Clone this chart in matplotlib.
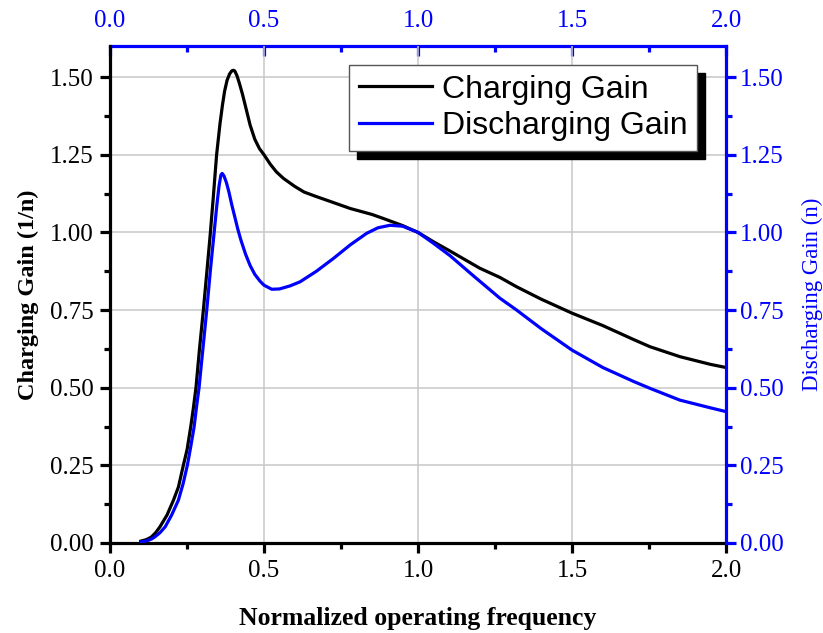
import matplotlib.pyplot as plt
from matplotlib.patches import Rectangle

plt.rcParams['font.family'] = 'Liberation Serif'

# Charging gain (1/n)
chgX = [0.10, 0.115, 0.125, 0.135, 0.148, 0.162, 0.185, 0.206, 0.222, 0.238, 0.25, 0.262,
        0.27, 0.279, 0.29, 0.303, 0.315, 0.325, 0.335, 0.346, 0.357, 0.365, 0.372, 0.38,
        0.388, 0.395, 0.40, 0.405, 0.412, 0.42, 0.43, 0.44, 0.455, 0.47, 0.485, 0.50,
        0.52, 0.54, 0.563, 0.60, 0.63, 0.671, 0.72, 0.78, 0.85, 0.887, 0.95, 1.0, 1.05,
        1.104, 1.20, 1.266, 1.32, 1.40, 1.50, 1.60, 1.70, 1.753, 1.85, 1.95, 2.0]
chgY = [0.006, 0.01, 0.014, 0.02, 0.033, 0.052, 0.09, 0.138, 0.18, 0.25, 0.30, 0.374,
        0.43, 0.50, 0.62, 0.75, 0.88, 0.99, 1.11, 1.25, 1.35, 1.41, 1.455, 1.49,
        1.51, 1.52, 1.522, 1.52, 1.505, 1.48, 1.445, 1.405, 1.345, 1.30, 1.27, 1.25,
        1.22, 1.195, 1.174, 1.148, 1.13, 1.115, 1.098, 1.077, 1.058, 1.045, 1.022, 1.0, 0.97,
        0.94, 0.885, 0.855, 0.825, 0.785, 0.74, 0.70, 0.655, 0.632, 0.60, 0.575, 0.565]

# Discharging gain (n)
disX = [0.10, 0.12, 0.135, 0.146, 0.162, 0.179, 0.20, 0.222, 0.237, 0.251, 0.262, 0.273,
        0.281, 0.289, 0.30, 0.314, 0.326, 0.338, 0.347, 0.354, 0.36, 0.364, 0.37, 0.378,
        0.386, 0.395, 0.405, 0.415, 0.425, 0.44, 0.455, 0.47, 0.487, 0.50, 0.525, 0.55,
        0.585, 0.617, 0.67, 0.725, 0.78, 0.833, 0.87, 0.909, 0.95, 1.0, 1.05, 1.104,
        1.18, 1.266, 1.32, 1.40, 1.50, 1.60, 1.70, 1.753, 1.85, 1.95, 2.0]
disY = [0.003, 0.007, 0.013, 0.02, 0.033, 0.052, 0.09, 0.138, 0.19, 0.25, 0.31, 0.374,
        0.44, 0.50, 0.61, 0.75, 0.88, 1.0, 1.09, 1.15, 1.185, 1.19, 1.182, 1.16,
        1.13, 1.09, 1.05, 1.01, 0.975, 0.93, 0.893, 0.865, 0.843, 0.83, 0.817, 0.818,
        0.828, 0.841, 0.875, 0.916, 0.96, 0.997, 1.015, 1.023, 1.02, 1.0, 0.965, 0.925,
        0.86, 0.788, 0.75, 0.69, 0.621, 0.565, 0.52, 0.498, 0.46, 0.435, 0.423]

xTicks = [0.0, 0.5, 1.0, 1.5, 2.0]
yTicks = [0.0, 0.25, 0.5, 0.75, 1.0, 1.25, 1.5]
blue = '#0000ff'

fig = plt.figure(figsize=(8.23, 6.33), dpi=100)
ax = fig.add_axes([0.1337, 0.1422, 0.7485, 0.785])
ax2 = ax.twinx()

ax.plot(chgX, chgY, color='black', lw=2.3, label='Charging Gain')
ax2.plot(disX, disY, color=blue, lw=2.3, label='Discharging Gain')

for a in (ax, ax2):
    a.set_xlim(0, 2.0)
    a.set_ylim(0, 1.6)
    a.set_yticks(yTicks)
    a.set_yticks([0.125, 0.375, 0.625, 0.875, 1.125, 1.375], minor=True)
    a.set_yticklabels(['%.2f' % t for t in yTicks])
ax.set_xticks(xTicks)
ax.set_xticks([0.25, 0.75, 1.25, 1.75], minor=True)
ax.set_xticklabels(['%.1f' % t for t in xTicks])
ax.grid(True, which='major', color='#c8c8c8', lw=1.1)
ax.set_axisbelow(True)

ax.spines['top'].set_visible(False)
ax.spines['right'].set_visible(False)
for s in ('left', 'bottom', 'top'):
    ax2.spines[s].set_visible(False)
ax.spines['left'].set_linewidth(2.3)
ax.spines['bottom'].set_linewidth(2.3)
ax2.spines['right'].set_linewidth(2.3)
ax2.spines['right'].set_color(blue)

ax.tick_params(which='major', direction='out', length=7, width=2.3, labelsize=18, pad=5)
ax.tick_params(which='minor', direction='out', length=4, width=2.3)
ax2.tick_params(which='major', direction='out', length=7, width=2.3, labelsize=18,
                colors=blue, pad=3)
ax2.tick_params(which='minor', direction='out', length=4, width=2.3, colors=blue)

top = ax.secondary_xaxis('top')
top.set_xticks(xTicks)
top.set_xticks([0.25, 0.75, 1.25, 1.75], minor=True)
top.set_xticklabels(['%.1f' % t for t in xTicks])
top.spines['top'].set_color(blue)
top.spines['top'].set_linewidth(2.3)
top.tick_params(which='major', direction='in', length=7, width=2.3, labelsize=18,
                colors=blue, pad=10)
top.tick_params(which='minor', direction='in', length=4, width=2.3, colors=blue)

ax.set_xlabel('Normalized operating frequency', fontsize=18.5, fontweight='bold', labelpad=18)
ax.set_ylabel('Charging Gain (1/n)', fontsize=17.5, fontweight='bold', labelpad=8)
ax2.set_ylabel('Discharging Gain (n)', fontsize=16.5, color=blue, labelpad=13)

h1, l1 = ax.get_legend_handles_labels()
h2, l2 = ax2.get_legend_handles_labels()
leg = ax2.legend(h1 + h2, l1 + l2, loc='upper right', bbox_to_anchor=(0.953, 0.962),
                 prop={'family': 'Liberation Sans', 'size': 23}, fancybox=False,
                 framealpha=1, edgecolor='#555555', handlelength=2.3,
                 handletextpad=0.3, borderpad=0.3, labelspacing=0.2,
                 borderaxespad=0)
leg.get_frame().set_linewidth(1.0)
leg.set_zorder(10)

# black drop shadow behind the legend box
fig.canvas.draw()
bb = leg.get_window_extent().transformed(ax2.transAxes.inverted())
dx = 8 / (ax2.bbox.width)
dy = 8 / (ax2.bbox.height)
ax2.add_patch(Rectangle((bb.x0 + dx, bb.y0 - dy), bb.width, bb.height,
                        transform=ax2.transAxes, color='black', zorder=9, clip_on=False))

fig.savefig('out.png', dpi=100)
